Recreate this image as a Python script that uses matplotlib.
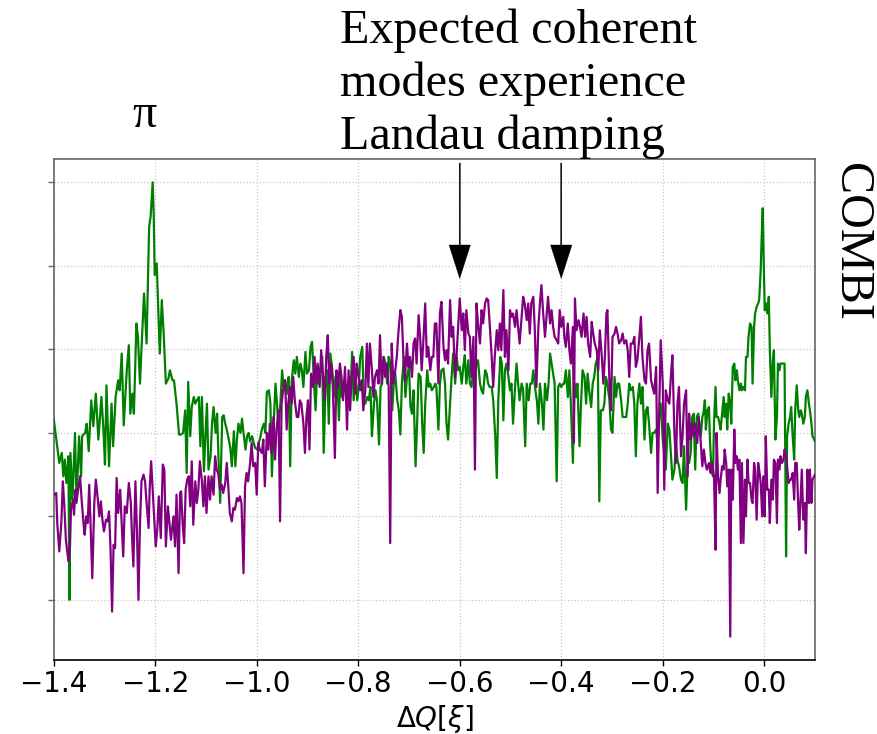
import numpy as np
import matplotlib
matplotlib.use("Agg")
import matplotlib.pyplot as plt

# ---------------- data ----------------
GREEN = [
    (-1.400,3.17),(-1.394,2.88),(-1.389,2.64),(-1.384,2.76),(-1.381,2.48),(-1.378,2.68),(-1.375,2.40),(-1.371,2.72),
    (-1.369,1.00),(-1.367,2.76),(-1.363,2.20),(-1.358,3.00),(-1.355,2.16),(-1.350,2.96),(-1.346,2.48),(-1.344,2.96),
    (-1.338,3.00),(-1.335,3.11),(-1.331,2.78),(-1.326,3.39),(-1.322,3.08),(-1.317,3.47),(-1.312,2.92),(-1.306,3.43),
    (-1.302,3.04),(-1.299,2.62),(-1.296,3.57),(-1.291,2.60),(-1.286,3.35),(-1.283,2.84),(-1.278,3.43),(-1.273,3.63),
    (-1.270,3.51),(-1.266,3.95),(-1.262,3.09),(-1.256,3.75),(-1.252,4.05),(-1.249,3.23),(-1.245,3.47),(-1.242,3.23),
    (-1.237,4.31),(-1.234,4.15),(-1.230,3.59),(-1.227,4.01),(-1.222,4.67),(-1.217,4.07),(-1.212,5.47),(-1.209,5.59),
    (-1.205,6.00),(-1.203,5.63),(-1.201,4.89),(-1.197,5.03),(-1.194,4.47),(-1.191,3.95),(-1.187,4.59),(-1.183,4.15),
    (-1.179,3.59),(-1.174,3.65),(-1.171,3.75),(-1.166,3.63),(-1.163,3.63),(-1.158,3.35),(-1.153,2.98),
    (-1.149,2.98),(-1.145,3.00),(-1.141,3.27),(-1.138,2.52),(-1.135,3.61),(-1.131,2.96),(-1.128,3.31),(-1.124,3.43),
    (-1.121,3.35),(-1.118,3.39),(-1.114,3.43),(-1.111,2.84),(-1.108,3.43),(-1.104,2.54),(-1.101,2.98),(-1.098,3.35),
    (-1.095,2.56),(-1.091,2.72),(-1.088,3.11),(-1.085,3.31),(-1.081,3.00),(-1.078,3.23),(-1.075,2.64),(-1.072,2.16),
    (-1.068,3.19),(-1.065,3.21),(-1.062,3.11),(-1.059,3.04),(-1.055,2.92),(-1.052,2.82),(-1.049,2.60),(-1.045,3.02),
    (-1.042,2.60),(-1.039,2.92),(-1.036,3.11),(-1.032,3.00),(-1.029,3.17),(-1.026,3.00),(-1.022,2.80),(-1.019,2.96),
    (-1.016,3.00),(-1.013,2.90),(-1.009,2.96),(-1.006,2.88),(-1.003,2.82),(-0.999,2.80),(-0.996,2.88),(-0.993,2.94),
    (-0.990,3.04),(-0.986,3.11),(-0.983,3.00),(-0.980,3.49),(-0.976,3.51),(-0.973,3.35),(-0.970,2.48),(-0.967,3.04),
    (-0.963,3.59),(-0.960,3.35),(-0.957,3.04),(-0.953,3.39),(-0.950,3.75),(-0.947,3.55),(-0.944,3.63),(-0.940,3.47),
    (-0.937,3.67),(-0.934,2.60),(-0.931,3.63),(-0.927,3.87),(-0.924,3.71),(-0.921,3.91),(-0.917,3.67),(-0.914,3.83),
    (-0.911,3.75),(-0.908,3.55),(-0.904,3.97),(-0.901,3.71),
    (-0.897,3.75),(-0.894,4.03),(-0.891,4.09),(-0.887,3.59),(-0.884,3.27),(-0.881,3.75),(-0.878,3.59),(-0.874,3.79),
    (-0.871,3.91),(-0.868,2.76),(-0.864,3.67),(-0.861,3.75),(-0.858,3.11),(-0.855,3.95),(-0.851,3.75),(-0.848,3.43),
    (-0.845,3.67),(-0.841,3.63),(-0.838,3.15),(-0.835,3.75),(-0.832,3.43),(-0.828,3.55),(-0.825,3.59),(-0.822,3.43),
    (-0.819,3.63),(-0.815,3.51),(-0.812,3.97),(-0.809,3.39),(-0.805,3.67),(-0.802,3.39),(-0.799,3.55),(-0.796,3.91),
    (-0.792,4.03),(-0.789,3.39),(-0.786,3.35),(-0.782,3.43),(-0.779,3.39),(-0.776,3.55),(-0.773,2.96),(-0.769,3.35),
    (-0.766,3.51),(-0.763,3.39),(-0.759,2.86),(-0.756,3.55),(-0.753,3.59),(-0.750,3.91),(-0.746,3.83),(-0.743,3.59),
    (-0.740,3.91),(-0.737,3.83),(-0.733,3.27),(-0.730,3.59),(-0.727,3.71),(-0.723,3.39),(-0.720,3.27),(-0.717,2.98),
    (-0.714,3.59),(-0.710,3.91),(-0.707,3.43),(-0.704,3.67),(-0.700,3.79),(-0.697,3.31),(-0.694,3.23),(-0.691,3.51),
    (-0.687,2.60),(-0.684,3.11),(-0.681,3.71),(-0.677,3.67),(-0.674,3.11),(-0.671,2.76),(-0.668,3.35),(-0.664,3.75),
    (-0.661,3.55),(-0.658,3.59),(-0.655,3.51),(-0.651,3.55),(-0.648,3.59),
    (-0.646,3.55),(-0.642,3.04),(-0.639,3.59),(-0.636,3.75),(-0.632,3.77),(-0.629,3.59),(-0.626,3.11),(-0.623,2.92),
    (-0.619,3.35),(-0.616,3.67),(-0.613,3.95),(-0.609,3.59),(-0.606,3.91),(-0.603,3.75),(-0.600,3.79),(-0.596,3.59),
    (-0.593,3.79),(-0.590,3.93),(-0.587,3.59),(-0.583,3.87),(-0.580,3.59),(-0.577,3.55),(-0.573,3.75),(-0.570,3.67),
    (-0.567,3.83),(-0.564,3.87),(-0.560,3.59),(-0.557,3.51),(-0.554,3.47),(-0.550,3.75),(-0.547,3.71),(-0.544,3.59),
    (-0.541,3.55),(-0.537,3.55),(-0.534,3.39),(-0.530,2.96),(-0.527,2.46),(-0.524,3.39),(-0.520,3.91),(-0.517,3.83),
    (-0.514,3.15),(-0.511,3.75),(-0.508,3.83),(-0.504,3.67),(-0.501,3.51),(-0.498,3.59),(-0.495,3.11),(-0.491,3.55),
    (-0.488,3.83),(-0.485,3.59),(-0.482,3.39),(-0.478,3.59),(-0.475,3.51),(-0.471,2.84),(-0.468,3.59),(-0.464,3.39),
    (-0.461,3.59),(-0.458,3.59),(-0.455,3.75),(-0.451,3.51),(-0.448,3.39),(-0.445,3.11),(-0.442,3.59),(-0.438,3.35),
    (-0.435,3.04),(-0.432,3.59),(-0.428,3.39),(-0.425,3.59),(-0.422,3.95),(-0.419,3.83),(-0.415,3.67),(-0.413,3.59),
    (-0.409,2.42),(-0.406,3.55),(-0.403,3.59),(-0.400,3.55),(-0.396,3.59),
    (-0.394,3.59),(-0.391,3.75),(-0.387,3.43),(-0.384,3.75),(-0.381,3.35),(-0.377,2.64),(-0.374,3.59),(-0.371,3.43),
    (-0.368,3.59),(-0.364,2.84),(-0.361,3.35),(-0.358,3.75),(-0.354,3.67),(-0.351,3.35),(-0.348,3.71),(-0.345,3.51),
    (-0.341,3.31),(-0.338,3.59),(-0.335,3.67),(-0.332,3.83),(-0.328,3.91),(-0.325,2.18),(-0.322,3.27),(-0.318,3.27),
    (-0.315,3.35),(-0.312,3.67),(-0.309,3.59),(-0.305,3.39),(-0.302,3.04),(-0.299,3.00),(-0.295,3.67),(-0.292,3.43),
    (-0.289,3.59),(-0.286,3.59),(-0.282,3.39),(-0.279,3.19),(-0.276,3.19),(-0.272,3.19),(-0.269,3.35),(-0.266,3.59),
    (-0.263,3.51),(-0.259,3.55),(-0.256,3.35),(-0.253,2.72),(-0.250,3.35),(-0.246,3.59),(-0.243,3.35),(-0.240,3.55),
    (-0.236,2.92),(-0.233,3.27),(-0.230,3.31),(-0.227,3.11),(-0.223,2.76),(-0.220,3.00),(-0.217,3.00),(-0.213,3.04),
    (-0.210,2.88),(-0.207,3.19),(-0.204,3.35),(-0.200,2.92),(-0.197,2.76),(-0.194,2.56),(-0.190,3.11),(-0.187,3.04),
    (-0.184,2.76),(-0.181,2.44),(-0.177,2.56),(-0.174,2.88),(-0.171,2.68),(-0.168,2.60),(-0.164,2.44),(-0.161,2.40),
    (-0.158,2.84),(-0.154,2.08),(-0.151,2.64),(-0.148,2.64),(-0.145,2.76),
    (-0.142,3.19),(-0.139,3.23),(-0.136,2.56),(-0.133,3.19),(-0.130,3.23),(-0.128,3.11),(-0.125,2.96),(-0.122,3.19),
    (-0.120,3.23),(-0.117,3.39),(-0.115,3.04),(-0.112,3.27),(-0.109,3.31),(-0.107,2.92),(-0.104,2.56),(-0.101,2.48),
    (-0.099,3.11),(-0.096,3.55),(-0.094,3.19),(-0.091,3.19),(-0.088,3.11),(-0.086,3.04),(-0.083,3.23),(-0.080,3.43),
    (-0.078,3.19),(-0.075,3.35),(-0.073,3.04),(-0.070,3.47),(-0.067,3.35),(-0.065,3.11),(-0.062,3.79),(-0.059,3.83),
    (-0.057,3.63),(-0.054,3.75),(-0.052,3.63),(-0.049,3.51),(-0.046,3.59),(-0.044,3.51),(-0.041,3.55),(-0.038,3.51),
    (-0.036,3.91),(-0.033,3.91),(-0.031,4.15),(-0.028,4.31),(-0.025,4.27),(-0.023,3.59),(-0.020,4.27),(-0.018,4.43),
    (-0.015,4.51),(-0.012,4.55),(-0.010,4.59),(-0.007,4.95),(-0.005,5.35),(-0.003,5.69),(-0.001,5.03),(0.001,4.47),
    (0.003,4.55),(0.006,4.43),(0.009,4.63),(0.011,3.99),(0.014,3.43),(0.017,3.87),(0.019,3.99),(0.022,2.92),
    (0.025,3.19),(0.027,3.83),(0.030,3.75),(0.032,3.83),(0.035,3.83),(0.038,3.83),(0.040,3.83),(0.043,1.52),
    (0.045,2.96),(0.048,3.11),(0.051,3.19),(0.053,3.31),(0.056,2.96),(0.059,2.68),(0.061,3.27),(0.064,3.57),
    (0.067,3.27),(0.069,3.19),(0.072,3.27),(0.074,3.23),(0.077,3.11),(0.080,3.19),(0.082,3.43),(0.085,3.51),
    (0.088,3.35),(0.090,3.27),(0.093,3.11),(0.095,2.96),(0.100,2.90),
]

PURPLE = [
    (-1.399,2.26),(-1.395,2.28),(-1.393,1.92),(-1.389,1.58),(-1.385,1.92),(-1.382,2.42),(-1.379,2.12),(-1.376,1.72),
    (-1.371,1.46),(-1.368,1.62),(-1.366,2.08),(-1.362,2.20),(-1.360,2.02),(-1.357,2.32),(-1.355,2.18),(-1.351,2.36),
    (-1.348,2.48),(-1.345,2.20),(-1.341,1.90),(-1.339,1.78),(-1.336,2.00),(-1.333,1.92),(-1.330,2.38),(-1.327,1.84),
    (-1.324,1.26),(-1.320,2.16),(-1.317,2.44),(-1.313,2.20),(-1.310,2.00),(-1.307,2.18),(-1.304,1.96),(-1.301,1.82),
    (-1.297,1.96),(-1.294,1.94),(-1.291,2.06),(-1.288,1.60),(-1.285,0.86),(-1.282,1.66),(-1.279,1.62),(-1.276,2.46),
    (-1.273,2.04),(-1.269,2.32),(-1.267,2.04),(-1.263,1.52),(-1.260,2.12),(-1.256,2.04),(-1.252,2.40),(-1.248,2.16),
    (-1.246,1.80),(-1.243,1.40),(-1.239,2.42),(-1.236,1.84),(-1.233,1.00),(-1.230,1.92),(-1.227,2.42),(-1.223,2.50),
    (-1.220,2.42),(-1.217,2.16),(-1.213,1.86),(-1.211,2.32),(-1.208,2.66),(-1.204,2.20),(-1.199,1.64),(-1.196,1.84),
    (-1.193,2.24),(-1.189,1.74),(-1.185,2.62),(-1.182,2.56),(-1.179,1.64),(-1.175,2.12),(-1.172,1.92),(-1.169,1.72),
    (-1.164,2.00),(-1.161,1.64),(-1.158,2.26),(-1.154,1.32),(-1.151,2.28),
    (-1.149,2.30),(-1.146,1.92),(-1.143,1.68),(-1.140,2.32),(-1.137,2.44),(-1.134,2.48),(-1.131,2.12),(-1.128,2.66),
    (-1.125,1.90),(-1.121,2.42),(-1.118,2.16),(-1.115,2.32),(-1.112,2.66),(-1.108,2.42),(-1.105,2.12),(-1.102,2.48),
    (-1.099,2.04),(-1.095,2.48),(-1.092,2.20),(-1.089,2.48),(-1.085,2.26),(-1.082,2.72),(-1.079,2.56),(-1.076,2.52),
    (-1.072,2.32),(-1.069,2.38),(-1.066,2.28),(-1.062,2.40),(-1.059,2.64),(-1.056,2.36),(-1.053,2.04),(-1.049,1.94),
    (-1.046,2.10),(-1.043,2.08),(-1.039,2.22),(-1.036,2.18),(-1.033,2.24),(-1.030,2.16),(-1.026,1.32),(-1.023,2.36),
    (-1.020,2.52),(-1.017,2.42),(-1.013,2.64),(-1.010,2.88),(-1.007,2.60),(-1.003,2.64),(-1.000,2.26),(-0.997,2.88),
    (-0.994,2.80),(-0.990,2.76),(-0.987,2.92),(-0.984,2.36),(-0.980,3.00),(-0.977,2.80),(-0.974,3.11),(-0.971,2.76),
    (-0.967,3.19),(-0.964,2.68),(-0.961,3.04),(-0.957,3.27),(-0.954,1.94),(-0.951,3.35),(-0.948,3.51),(-0.944,3.63),
    (-0.941,3.04),(-0.938,3.35),(-0.934,3.55),(-0.931,3.35),(-0.928,3.67),(-0.925,3.39),(-0.921,3.19),(-0.918,3.19),
    (-0.915,3.39),(-0.912,3.35),(-0.908,3.11),(-0.905,2.76),(-0.902,3.19),
    (-0.899,3.39),(-0.896,2.80),(-0.893,3.71),(-0.889,3.55),(-0.886,3.91),(-0.883,3.59),(-0.880,3.83),(-0.876,3.55),
    (-0.873,3.99),(-0.870,3.75),(-0.866,3.39),(-0.863,3.91),(-0.860,4.17),(-0.857,3.59),(-0.853,3.83),(-0.850,3.55),
    (-0.846,2.70),(-0.843,3.75),(-0.840,3.55),(-0.836,3.83),(-0.833,3.67),(-0.830,3.39),(-0.826,3.79),(-0.822,3.04),
    (-0.819,3.75),(-0.816,3.27),(-0.813,3.67),(-0.809,3.91),(-0.806,3.47),(-0.803,3.83),(-0.800,3.71),(-0.796,3.51),
    (-0.793,3.63),(-0.790,3.27),(-0.786,3.51),(-0.783,4.07),(-0.780,3.55),(-0.777,4.07),(-0.773,3.75),(-0.770,3.43),
    (-0.767,3.67),(-0.763,3.75),(-0.760,3.59),(-0.757,4.17),(-0.754,3.59),(-0.750,3.91),(-0.747,3.67),(-0.744,3.83),
    (-0.740,3.55),(-0.737,1.68),(-0.734,4.07),(-0.731,3.59),(-0.727,3.75),(-0.724,3.91),(-0.721,4.19),(-0.717,4.47),
    (-0.714,4.39),(-0.711,3.91),(-0.708,3.63),(-0.704,4.07),(-0.701,3.79),(-0.698,3.91),(-0.694,3.67),(-0.691,4.07),
    (-0.688,4.13),(-0.685,3.83),(-0.681,4.41),(-0.678,4.15),(-0.675,3.75),(-0.672,4.07),(-0.668,4.55),(-0.665,3.91),
    (-0.662,4.03),(-0.658,3.75),(-0.655,3.91),(-0.652,3.91),(-0.649,4.31),
    (-0.646,4.31),(-0.642,3.59),(-0.639,4.43),(-0.636,4.57),(-0.632,4.03),(-0.629,3.87),(-0.626,3.99),(-0.623,3.83),
    (-0.619,4.59),(-0.616,4.15),(-0.613,4.27),(-0.609,3.67),(-0.606,3.95),(-0.603,4.27),(-0.600,4.61),(-0.596,4.23),
    (-0.593,4.43),(-0.590,3.99),(-0.587,4.47),(-0.583,4.19),(-0.580,4.15),(-0.577,3.67),(-0.573,4.15),(-0.570,2.56),
    (-0.567,4.55),(-0.564,4.31),(-0.560,4.07),(-0.557,4.47),(-0.554,4.31),(-0.550,4.55),(-0.547,4.61),(-0.544,4.59),
    (-0.541,4.31),(-0.537,3.91),(-0.534,3.55),(-0.531,3.91),(-0.527,4.23),(-0.524,3.99),(-0.521,4.31),(-0.518,3.99),
    (-0.514,4.71),(-0.511,3.91),(-0.508,4.23),(-0.504,3.75),(-0.501,4.47),(-0.498,4.39),(-0.495,4.43),(-0.491,4.27),
    (-0.488,4.47),(-0.485,4.27),(-0.482,4.07),(-0.478,4.39),(-0.475,4.63),(-0.472,4.55),(-0.468,4.35),(-0.465,4.55),
    (-0.462,4.19),(-0.459,4.55),(-0.455,4.63),(-0.452,4.23),(-0.449,3.55),(-0.445,4.27),(-0.442,4.55),(-0.439,4.77),
    (-0.436,4.47),(-0.432,4.15),(-0.429,4.39),(-0.426,4.63),(-0.422,4.31),(-0.419,4.47),(-0.416,4.27),(-0.413,4.15),
    (-0.409,4.11),(-0.406,4.07),(-0.403,4.47),(-0.400,4.27),(-0.396,4.39),
    (-0.394,4.15),(-0.391,4.03),(-0.387,4.31),(-0.384,3.99),(-0.381,3.83),(-0.377,4.27),(-0.375,2.88),(-0.373,4.61),
    (-0.370,4.23),(-0.366,4.35),(-0.363,4.27),(-0.360,4.15),(-0.356,4.43),(-0.353,4.15),(-0.350,4.39),(-0.347,4.07),
    (-0.343,3.91),(-0.340,4.33),(-0.337,4.19),(-0.334,4.07),(-0.330,3.99),(-0.327,3.75),(-0.324,4.23),(-0.320,3.91),
    (-0.317,3.59),(-0.314,3.91),(-0.311,4.43),(-0.309,4.47),(-0.305,3.59),(-0.302,3.27),(-0.299,4.15),(-0.295,4.19),
    (-0.292,4.27),(-0.289,4.19),(-0.286,4.07),(-0.282,4.11),(-0.279,4.19),(-0.276,4.07),(-0.272,4.11),(-0.269,3.99),
    (-0.266,3.67),(-0.263,4.07),(-0.259,4.07),(-0.256,4.15),(-0.253,3.79),(-0.250,3.87),(-0.246,4.15),(-0.243,4.39),
    (-0.240,3.91),(-0.236,3.63),(-0.233,3.59),(-0.230,3.99),(-0.227,4.07),(-0.223,3.63),(-0.220,3.55),(-0.217,3.47),
    (-0.213,3.79),(-0.210,2.28),(-0.207,3.27),(-0.204,4.11),(-0.200,3.59),(-0.197,2.32),(-0.194,3.51),(-0.190,3.39),
    (-0.187,3.35),(-0.184,3.67),(-0.181,3.93),(-0.177,3.00),(-0.174,2.64),(-0.171,3.35),(-0.168,3.55),(-0.164,2.72),
    (-0.161,2.96),(-0.158,3.35),(-0.154,3.51),(-0.151,2.48),(-0.148,3.23),(-0.145,2.92),
    (-0.142,3.11),(-0.139,2.96),(-0.136,3.11),(-0.132,2.88),(-0.129,3.19),(-0.126,2.96),(-0.122,2.60),(-0.119,2.80),
    (-0.116,2.64),(-0.113,2.56),(-0.109,2.64),(-0.106,2.52),(-0.103,2.64),(-0.099,2.48),(-0.096,1.60),(-0.094,3.00),
    (-0.091,2.48),(-0.088,2.28),(-0.086,2.44),(-0.083,2.60),(-0.080,2.56),(-0.078,2.80),(-0.075,2.64),(-0.073,2.36),
    (-0.070,2.56),(-0.067,0.56),(-0.065,2.56),(-0.062,2.20),(-0.059,3.04),(-0.057,2.64),(-0.054,2.72),(-0.052,2.56),
    (-0.049,2.68),(-0.046,1.68),(-0.044,2.64),(-0.041,1.68),(-0.038,2.44),(-0.036,2.00),(-0.033,2.68),(-0.031,2.40),
    (-0.028,2.40),(-0.025,2.20),(-0.023,2.16),(-0.020,2.64),(-0.018,2.56),(-0.015,1.96),(-0.012,2.64),(-0.010,2.56),
    (-0.007,2.40),(-0.004,2.00),(-0.002,2.48),(0.001,2.00),(0.003,2.96),(0.006,2.32),(0.009,2.32),(0.011,1.92),
    (0.014,2.44),(0.017,2.20),(0.019,2.68),(0.022,2.64),(0.025,1.92),(0.027,2.68),(0.030,2.56),(0.032,2.72),
    (0.035,2.64),(0.038,2.68),(0.040,2.80),(0.043,2.72),(0.045,2.60),(0.048,2.40),(0.051,2.44),(0.053,2.44),
    (0.056,2.52),(0.059,2.20),(0.061,2.64),(0.064,2.64),(0.067,2.12),(0.069,1.84),(0.072,2.28),(0.074,2.56),
    (0.077,1.96),(0.080,2.16),(0.082,1.56),(0.085,2.56),(0.088,2.16),(0.090,2.56),(0.093,2.16),(0.095,2.44),
    (0.100,2.50),
]

X_TICKS = [-1.4, -1.2, -1.0, -0.8, -0.6, -0.4, -0.2, 0.0]
X_TICK_LABELS = ["\u22121.4", "\u22121.2", "\u22121.0", "\u22120.8", "\u22120.6", "\u22120.4", "\u22120.2", "0.0"]
Y_TICKS = [1, 2, 3, 4, 5, 6]
ARROW_X = [-0.6, -0.4]
ARROW_TIP = 4.85
ARROW_TAIL = 6.23
ANNOT_LINES = ["Expected coherent", "modes experience", "Landau damping"]

# ---------------- figure ----------------
W, H = 878, 734
fig = plt.figure(figsize=(W / 100, H / 100), dpi=100)
ax = fig.add_axes([53.7 / W, 1 - 660 / H, (815 - 53.7) / W, (660 - 159) / H])

gx, gy = np.array(GREEN).T
px, py = np.array(PURPLE).T
ax.plot(gx, gy, color="green", lw=1.6, zorder=3)
ax.plot(px, py, color="purple", lw=1.6, zorder=4)

ax.set_xlim(-1.4, 0.1)
ax.set_ylim(0.28, 6.28)
ax.set_xticks(X_TICKS)
ax.set_xticklabels(X_TICK_LABELS, fontsize=20)
ax.set_yticks(Y_TICKS)
ax.set_yticklabels([])
ax.tick_params(axis="x", length=4, width=1, pad=3, colors="black")
ax.tick_params(axis="y", length=4, width=1, color="0.4")
ax.grid(True, color="#c8c8c8", linestyle=":", linewidth=0.9)
ax.set_axisbelow(True)
for s in ["left", "top", "right"]:
    ax.spines[s].set_color("0.4")
    ax.spines[s].set_linewidth(1.2)
ax.spines["bottom"].set_color("black")
ax.spines["bottom"].set_linewidth(1.2)
ax.set_xlabel(r"$\Delta Q[\xi]$", fontsize=20, labelpad=4)

for xa in ARROW_X:
    ax.arrow(xa, ARROW_TAIL, 0, ARROW_TIP - ARROW_TAIL, width=0.0022,
             head_width=0.042, head_length=0.40, length_includes_head=True,
             color="black", lw=0.3, zorder=6)

serif = ["Liberation Serif", "DejaVu Serif"]
baselines = [43, 96, 149]
for line, b in zip(ANNOT_LINES, baselines):
    fig.text(340 / W, 1 - b / H, line, family=serif, fontsize=34.7,
             ha="left", va="baseline")
fig.text(145 / W, 1 - 127 / H, "\u03c0", family=serif, fontsize=34.7,
         ha="center", va="baseline")
fig.text(851 / W, 1 - 242 / H, "COMBI", family=serif, fontsize=34.7,
         rotation=270, ha="center", va="center")

fig.savefig("out.png", dpi=100)
